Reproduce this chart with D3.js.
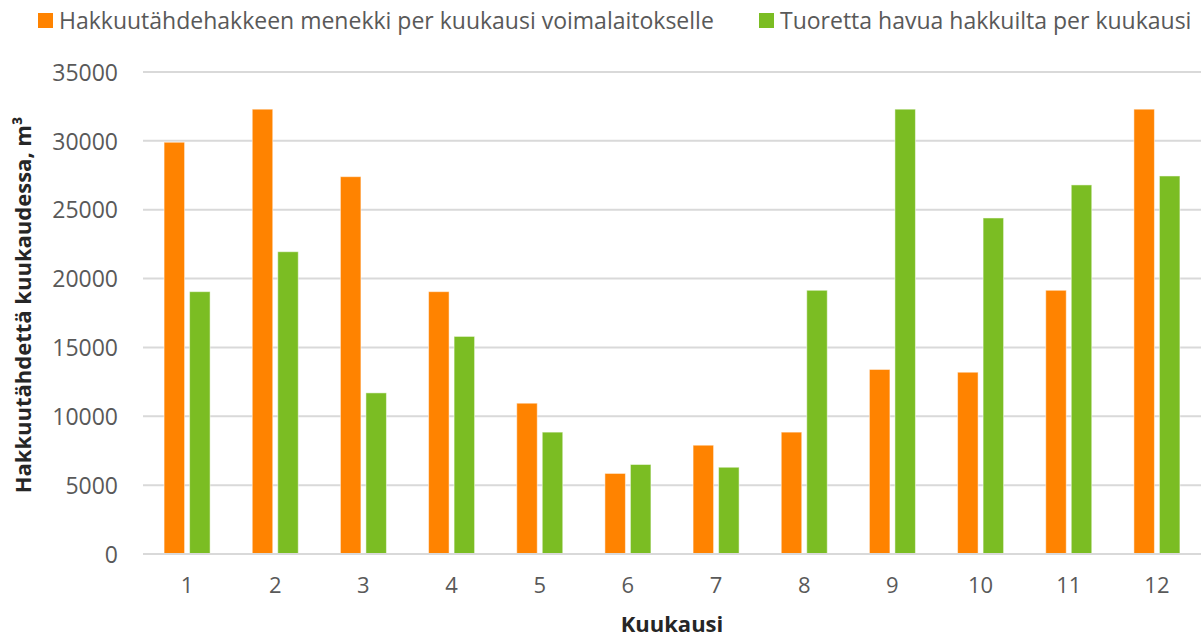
<!DOCTYPE html>
<html>
<head>
<meta charset="utf-8">
<script src="https://cdnjs.cloudflare.com/ajax/libs/d3/7.8.5/d3.min.js"></script>
<style>
    body { margin: 0; background: #fff; }
    text { font-family: "Open Sans", sans-serif; }
</style>
</head>
<body>
<script>
//chart data
var months = ["1", "2", "3", "4", "5", "6", "7", "8", "9", "10", "11", "12"];
var menekki = [29900, 32300, 27400, 19050, 10950, 5850, 7900, 8850, 13400, 13200, 19150, 32300];
var tuore = [19050, 21950, 11700, 15800, 8850, 6500, 6300, 19150, 32300, 24400, 26800, 27450];
var seriesNames = ["Hakkuutähdehakkeen menekki per kuukausi voimalaitokselle", "Tuoretta havua hakkuilta per kuukausi"];
var seriesColors = ["#ff8300", "#7bbd23"];
var yTicks = [0, 5000, 10000, 15000, 20000, 25000, 30000, 35000];

window.onload = function () {
    var w = 1202, h = 637;

    var svg = d3.select("body")
        .append("svg")
        .attr("width", w)
        .attr("height", h);

    //one row per month, one value per series
    var rows = months.map(function (m, i) {
        return { month: m, values: [menekki[i], tuore[i]] };
    });

    //scales
    var x0 = d3.scaleBand()
        .domain(months)
        .range([143, 1201])
        .paddingInner(0.478)
        .paddingOuter(0.239);

    var x1 = d3.scaleBand()
        .domain([0, 1])
        .range([0, x0.bandwidth()])
        .paddingInner(0.196);

    var y = d3.scaleLinear()
        .domain([0, 35000])
        .range([554, 72]);

    //horizontal gridlines
    svg.append("g")
        .selectAll("line")
        .data(yTicks)
        .enter()
        .append("line")
        .attr("x1", 143)
        .attr("x2", 1201)
        .attr("y1", function (d) { return y(d); })
        .attr("y2", function (d) { return y(d); })
        .style("stroke", "#d9d9d9")
        .style("stroke-width", 2);

    //y axis labels
    var yAxis = d3.axisLeft(y)
        .tickValues(yTicks)
        .tickSize(0)
        .tickPadding(0)
        .tickFormat(d3.format("d"));

    var yAxisG = svg.append("g")
        .attr("transform", "translate(118,0)")
        .call(yAxis);
    yAxisG.select(".domain").remove();
    yAxisG.selectAll("text")
        .style("font-size", "23px")
        .style("fill", "#595959")
        .attr("dy", "0.36em");

    //x axis labels
    var xAxis = d3.axisBottom(x0)
        .tickSize(0)
        .tickPadding(0);

    var xAxisG = svg.append("g")
        .attr("transform", "translate(0,572)")
        .call(xAxis);
    xAxisG.select(".domain").remove();
    xAxisG.selectAll("text")
        .style("font-size", "22px")
        .style("fill", "#595959")
        .attr("dy", "0.95em");

    //bars
    var groups = svg.append("g")
        .selectAll(".month")
        .data(rows)
        .enter()
        .append("g")
        .attr("class", "month")
        .attr("transform", function (d) {
            return "translate(" + x0(d.month) + ",0)";
        });

    groups.selectAll("rect")
        .data(function (d) { return d.values; })
        .enter()
        .append("rect")
        .attr("x", function (d, i) { return x1(i); })
        .attr("y", function (d) { return y(d); })
        .attr("width", x1.bandwidth())
        .attr("height", function (d) { return y(0) - y(d); })
        .style("fill", function (d, i) { return seriesColors[i]; })
        .style("stroke", "#ffffff")
        .style("stroke-opacity", 0.5)
        .style("stroke-width", 1);

    //baseline drawn again on top of bars
    svg.append("line")
        .attr("x1", 143)
        .attr("x2", 1201)
        .attr("y1", y(0))
        .attr("y2", y(0))
        .style("stroke", "#d9d9d9")
        .style("stroke-width", 2);

    //legend
    var legendX = [38, 759];
    var legend = svg.selectAll(".legend")
        .data(seriesNames)
        .enter()
        .append("g")
        .attr("class", "legend")
        .attr("transform", function (d, i) {
            return "translate(" + legendX[i] + ",0)";
        });

    legend.append("rect")
        .attr("x", 0)
        .attr("y", 13)
        .attr("width", 15)
        .attr("height", 15)
        .style("fill", function (d, i) { return seriesColors[i]; });

    legend.append("text")
        .attr("x", 21)
        .attr("y", 29)
        .style("font-size", "23px")
        .style("fill", "#595959")
        .text(function (d) { return d; });

    //axis titles
    svg.append("text")
        .attr("x", 672)
        .attr("y", 632)
        .attr("text-anchor", "middle")
        .style("font-size", "22px")
        .style("font-weight", "bold")
        .style("fill", "#262626")
        .text("Kuukausi");

    svg.append("text")
        .attr("transform", "translate(31,305) rotate(-90)")
        .attr("text-anchor", "middle")
        .style("font-size", "22px")
        .style("font-weight", "bold")
        .style("fill", "#262626")
        .text("Hakkuutähdettä kuukaudessa, m³");
};
</script>
</body>
</html>
